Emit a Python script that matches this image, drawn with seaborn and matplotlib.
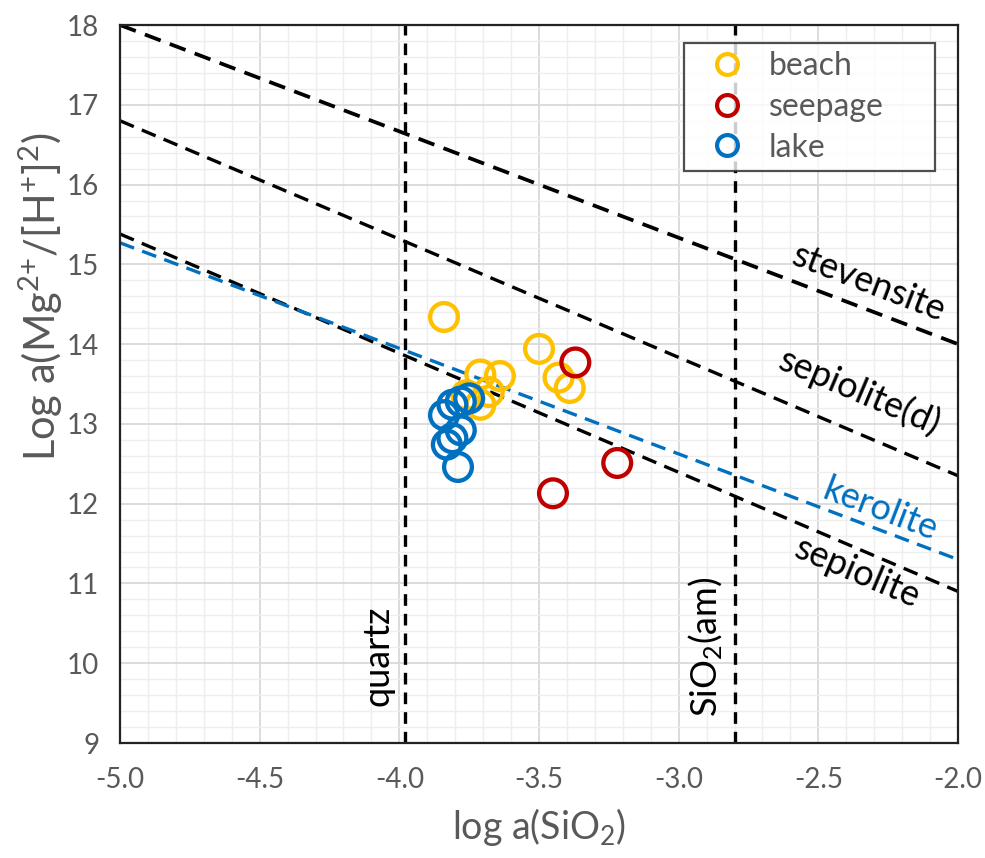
import matplotlib
matplotlib.use("Agg")
import matplotlib.pyplot as plt
from matplotlib.ticker import MultipleLocator, FormatStrFormatter
from matplotlib.lines import Line2D
import seaborn as sns
import pandas as pd

# ---- data ----
beach_x = [-3.84, -3.50, -3.71, -3.64, -3.43, -3.39, -3.68, -3.71, -3.76]
beach_y = [14.34, 13.94, 13.62, 13.60, 13.58, 13.45, 13.40, 13.24, 13.36]
seep_x = [-3.37, -3.22, -3.45]
seep_y = [13.77, 12.51, 12.13]
lake_x = [-3.78, -3.81, -3.75, -3.84, -3.78, -3.81, -3.83, -3.79]
lake_y = [13.28, 13.24, 13.32, 13.11, 12.92, 12.82, 12.74, 12.46]

groups = ["beach", "seepage", "lake"]
colors = ["#FFC000", "#C00000", "#0070C0"]

line_x = [-5.0, -2.0]
stevensite_y = [18.0, 14.0]
sepiolite_d_y = [16.8, 12.35]
kerolite_y = [15.27, 11.3]
sepiolite_y = [15.38, 10.9]
quartz_x = -3.98
sio2am_x = -2.80

x_ticks = [-5.0, -4.5, -4.0, -3.5, -3.0, -2.5, -2.0]
y_ticks = [9, 10, 11, 12, 13, 14, 15, 16, 17, 18]

df = pd.DataFrame({
    "x": beach_x + seep_x + lake_x,
    "y": beach_y + seep_y + lake_y,
    "group": ["beach"] * len(beach_x) + ["seepage"] * len(seep_x) + ["lake"] * len(lake_x),
})

sns.set_style("white")
plt.rcParams["font.family"] = ["Lato", "DejaVu Sans"]
plt.rcParams["mathtext.fontset"] = "custom"
plt.rcParams["mathtext.rm"] = "Lato"
plt.rcParams["mathtext.it"] = "Lato:italic"

fig = plt.figure(figsize=(9.85, 8.58), dpi=100)
ax = fig.add_axes([120 / 985, 1 - 743 / 858, 838 / 985, 718 / 858])

ax.set_xlim(-5.0, -2.0)
ax.set_ylim(9, 18)

# grid
ax.xaxis.set_major_locator(MultipleLocator(0.5))
ax.xaxis.set_minor_locator(MultipleLocator(0.1))
ax.yaxis.set_major_locator(MultipleLocator(1))
ax.yaxis.set_minor_locator(MultipleLocator(0.2))
ax.grid(which="major", color="#D9D9D9", lw=1.3)
ax.grid(which="minor", color="#EEEEEE", lw=1.0)
ax.set_axisbelow(True)

# reference lines
dash = (0, (4.5, 2.6))
ax.plot(line_x, stevensite_y, color="black", lw=2.7, ls=dash, zorder=2)
ax.plot(line_x, sepiolite_d_y, color="black", lw=2.4, ls=dash, zorder=2)
ax.plot(line_x, sepiolite_y, color="black", lw=2.4, ls=dash, zorder=2)
ax.plot(line_x, kerolite_y, color="#0070C0", lw=2.4, ls=dash, zorder=2)
ax.axvline(quartz_x, color="black", lw=2.4, ls=(0, (3.5, 2.4)), zorder=2)
ax.axvline(sio2am_x, color="black", lw=2.4, ls=(0, (3.5, 2.4)), zorder=2)

# points
for g, c in zip(groups, colors):
    sub = df[df["group"] == g]
    sns.scatterplot(data=sub, x="x", y="y", color=c, s=400, ax=ax,
                    legend=False, zorder=4)
    coll = ax.collections[-1]
    coll.set_facecolor("none")
    coll.set_edgecolor(c)
    coll.set_linewidth(3.1)

# line labels
lab_kw = dict(fontsize=26, ha="center", va="center", rotation_mode="anchor")
ax.text(-2.32, 14.77, "stevensite", rotation=-21, color="black", **lab_kw)
ax.text(-2.35, 13.40, "sepiolite(d)", rotation=-23, color="black", **lab_kw)
ax.text(-2.28, 11.92, "kerolite", rotation=-21, color="#0070C0", **lab_kw)
ax.text(-2.36, 11.13, "sepiolite", rotation=-23, color="black", **lab_kw)
ax.text(-4.076, 10.09, "quartz", rotation=90, color="black", **lab_kw)
ax.text(-2.902, 10.2, r"SiO$_2$(am)", rotation=90, color="black", **lab_kw)

# axes styling
for sp in ax.spines.values():
    sp.set_visible(True)
    sp.set_color("#222222")
    sp.set_linewidth(1.6)
ax.tick_params(which="major", direction="out", length=7, width=1.4,
               color="#222222", labelsize=20, labelcolor="#595959")
ax.tick_params(axis="x", pad=10)
ax.tick_params(axis="y", pad=8)
ax.tick_params(which="minor", length=0)
ax.set_xticks(x_ticks)
ax.set_yticks(y_ticks)
ax.xaxis.set_major_formatter(FormatStrFormatter("%.1f"))
ax.yaxis.set_major_formatter(FormatStrFormatter("%d"))

ax.set_xlabel(r"log a(SiO$_2$)", fontsize=27, color="#595959")
ax.set_ylabel(r"Log a(Mg$^{2{+}}$/[H$^{{+}}$]$^{2}$)", fontsize=30, color="#595959")
ax.xaxis.set_label_coords(0.5, -0.088)
ax.yaxis.set_label_coords(-0.066, 0.621)

handles = [Line2D([], [], ls="none", marker="o", markersize=15,
                  markerfacecolor="none", markeredgecolor=c, markeredgewidth=3.0)
           for c in colors]
leg = ax.legend(handles, groups, loc="upper left",
                bbox_to_anchor=(0.673, 0.8036, 0.2996, 0.1714), mode="expand",
                fontsize=23, frameon=True,
                fancybox=False, edgecolor="#222222", handletextpad=0.2,
                borderpad=0.25, labelspacing=0.34, borderaxespad=0,
                handlelength=2.2)
leg.get_frame().set_linewidth(1.6)
for t in leg.get_texts():
    t.set_color("#595959")

fig.savefig("out.png", dpi=100)
